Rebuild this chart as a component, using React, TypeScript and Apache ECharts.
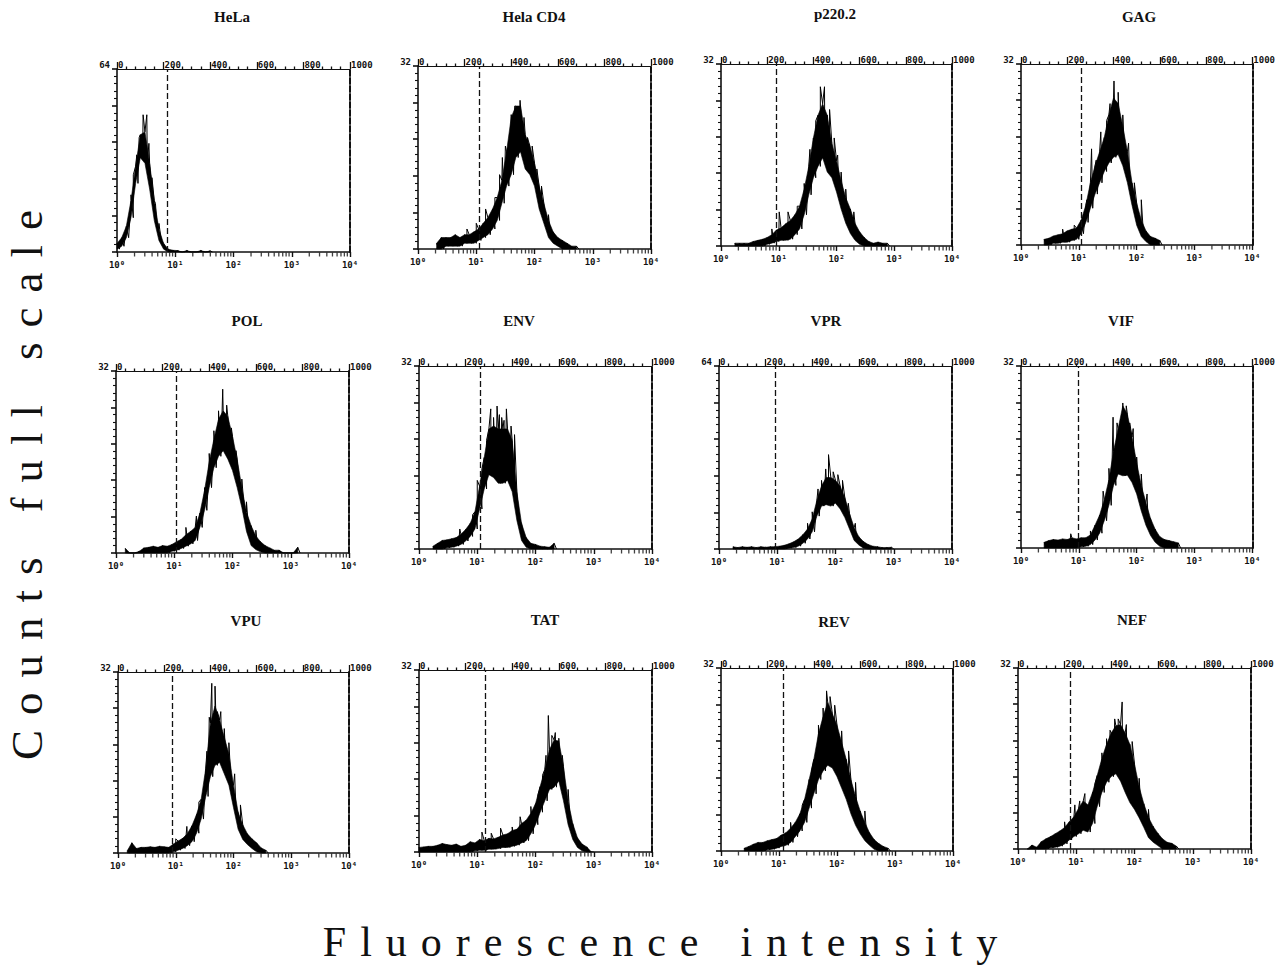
import React, { useEffect, useRef } from "react";
import * as echarts from "echarts";

// ---------- DATA ----------
const panelNames = ["HeLa", "Hela CD4", "p220.2", "GAG", "POL", "ENV", "VPR", "VIF", "VPU", "TAT", "REV", "NEF"];
const fullScale = [64, 32, 32, 32, 32, 32, 64, 32, 32, 32, 32, 32];
const markerChannel = [217, 265, 239, 259, 260, 263, 241, 248, 233, 286, 267, 226];
const startChannel = [0, 80, 60, 100, 40, 60, 60, 100, 40, 0, 100, 40];
const channelStep = 20;

const topTickLabels = ["0", "200", "400", "600", "800", "1000"];
const decadeLabels = ["10\u2070", "10\u00b9", "10\u00b2", "10\u00b3", "10\u2074"];
const logMinorMultipliers = [2, 3, 4, 5, 6, 7, 8, 9];
const decades = [1, 10, 100, 1000];

const xAxisTitle = "Fluorescence intensity";
const yAxisTitle = "Counts full scale";

// upper / lower envelopes of the noisy histogram (counts), every 20 channels
const helaHi = [3, 5, 9, 18, 30, 41, 42, 31, 18, 8, 3, 1, 0.6, 0.5, 0, 0.5, 0, 0, 0.5, 0, 0.4];
const helaLo = [1, 2, 5, 12, 24, 33, 31, 22, 11, 4, 1, 0, 0, 0, 0, 0, 0, 0, 0, 0, 0];
const helaSpikes = [[60, 20], [70, 27], [85, 34], [95, 40], [112, 48], [128, 48], [137, 38], [150, 26], [165, 17], [180, 10]];

const cd4Hi = [1, 2, 2, 2, 2.5, 2, 2.5, 2.5, 3, 3.5, 4.5, 5.5, 7, 9, 12, 17, 23, 25, 25, 20, 18, 15, 11, 8, 5, 3, 2, 1.5, 1, 0.5, 0.5];
const cd4Lo = [0, 0, 0.5, 0.5, 0.5, 0.5, 1, 1, 1, 1.5, 2, 2.5, 3.5, 5, 8, 11, 13, 16, 17, 14, 13, 11, 7, 4.5, 2, 1, 0.5, 0, 0, 0, 0];
const cd4Spikes = [[210, 3.5], [250, 4.5], [290, 7], [330, 9], [350, 13], [362, 16], [375, 18], [400, 23.5], [415, 25], [438, 26], [455, 23], [470, 19.5], [490, 18], [510, 14], [530, 11], [560, 6]];

const p220Hi = [0.5, 0.5, 0.5, 0.5, 0.8, 1, 1.2, 1.5, 2, 2.8, 3.2, 3.9, 4.5, 5.5, 7, 10, 14, 19, 23, 25, 23, 18, 15, 11.5, 8.5, 6.5, 4, 2.5, 1.5, 0.8, 0.5, 0.7, 0.5, 0.5];
const p220Lo = [0, 0, 0, 0, 0, 0, 0, 0.3, 0.5, 0.8, 1, 1, 1.2, 2, 3, 5.5, 9, 12, 14, 15.5, 13, 12, 9.5, 6.5, 4, 2.2, 1, 0.3, 0, 0, 0, 0, 0, 0];
const p220Spikes = [[220, 3], [252, 6], [290, 6], [330, 7], [360, 11], [385, 17], [410, 22], [430, 28], [448, 28], [470, 24], [490, 19], [505, 16], [520, 13], [540, 10], [575, 6]];

const gagHi = [1, 1.2, 1.6, 1.8, 2, 2.5, 2.8, 3, 4.4, 7, 11, 14, 16.5, 19, 23, 26, 25, 21, 16.5, 11, 7.4, 4.4, 2.5, 1.5, 1.2, 0.8];
const gagLo = [0, 0, 0.3, 0.3, 0.5, 0.5, 0.8, 1, 2, 4, 6.5, 9, 11, 13, 14.5, 15.5, 16, 14, 11, 7, 3.5, 1.5, 0.6, 0, 0, 0];
const gagSpikes = [[180, 2.8], [230, 3.5], [285, 8], [305, 17], [325, 15], [345, 20], [370, 22], [385, 25], [402, 29], [420, 27], [440, 23], [465, 18], [490, 11], [520, 8]];

const polHi = [0.8, 0, 0, 0.3, 0.9, 1, 1.2, 1, 1.3, 1.2, 1.5, 2, 2.4, 3.2, 3.8, 4.5, 7, 11, 16, 20, 23.5, 25, 24, 20.5, 16.5, 11.5, 7.2, 4.8, 3, 2, 1.3, 0.9, 0.5, 0.5, 0, 0, 0, 1];
const polLo = [0, 0, 0, 0, 0, 0, 0, 0, 0, 0, 0.3, 0.5, 0.8, 1.2, 1.6, 2.2, 4.5, 7.5, 11.5, 15, 17, 18, 16.5, 14.5, 11.5, 8, 3.8, 1.3, 0.6, 0.2, 0, 0, 0, 0, 0, 0, 0, 0];
const polSpikes = [[300, 4.5], [345, 6.5], [380, 11.5], [400, 17.5], [420, 21.5], [440, 25], [458, 28.8], [475, 26], [495, 22], [515, 18], [540, 13], [560, 9], [600, 4]];

const envHi = [0.5, 1, 1.5, 1.6, 1.8, 2, 2.6, 3.4, 4.5, 6.5, 11, 16, 21, 21.5, 21, 21, 21, 19, 10, 4.5, 2, 1, 0.8, 0.5, 0.4, 0.3, 1];
const envLo = [0, 0, 0, 0.2, 0.3, 0.5, 0.8, 1.4, 2.2, 3.5, 7, 10.5, 13, 12.5, 11.5, 11.5, 12, 10, 5, 1.5, 0.3, 0, 0, 0, 0, 0, 0];
const envSpikes = [[175, 3.5], [230, 6], [250, 12], [270, 14], [290, 19], [308, 24.5], [320, 23], [335, 25], [345, 23.5], [355, 23], [365, 22.5], [375, 24.5], [395, 21.5], [410, 20]];

const vprHi = [0.8, 0.5, 0.8, 0.6, 0.8, 0.5, 0.8, 0.6, 0.8, 0.8, 1, 1.3, 1.8, 2.5, 3.5, 5, 7, 10.5, 17, 22, 25, 25, 24, 22, 18, 12.5, 7.5, 4.3, 2.6, 1.6, 1, 0.8, 0.5, 0.5, 0.6];
const vprLo = [0, 0, 0, 0, 0, 0, 0, 0, 0, 0, 0, 0, 0.3, 0.5, 1, 2, 3.5, 6, 11.5, 15, 15.5, 15, 16, 14, 11, 7, 3, 1.4, 0.3, 0, 0, 0, 0, 0, 0];
const vprSpikes = [[380, 9], [400, 13], [425, 21], [440, 24], [458, 28], [470, 33], [490, 27], [510, 26], [530, 24], [555, 16], [585, 9]];

const vifHi = [1, 1.3, 1.5, 1.4, 1.6, 1.5, 1.8, 1.6, 1.8, 1.8, 2.3, 4, 5.8, 8.5, 12, 17, 21, 25, 23.5, 19.5, 15, 11, 8, 5.2, 3.3, 2, 1.5, 1.3, 1.1, 0.9];
const vifLo = [0, 0, 0, 0, 0, 0, 0, 0, 0.2, 0.3, 0.6, 1.4, 2.6, 4.8, 7.5, 11, 13, 12.7, 12.8, 11.5, 9.5, 6.5, 4, 2.2, 1, 0.3, 0, 0, 0, 0];
const vifSpikes = [[215, 2.5], [300, 3], [355, 10], [380, 14], [398, 23], [415, 22], [440, 25.5], [455, 25], [470, 22], [485, 21], [500, 16], [520, 13], [545, 9.5]];

const vpuHi = [0.4, 1.8, 0.8, 1, 1, 1.1, 1, 1.2, 1.1, 1, 1.6, 2.1, 2.6, 3.4, 4.8, 6.8, 9.5, 15, 23, 26, 23.5, 20.5, 17.5, 12, 7.2, 5, 3.4, 2.5, 1.8, 0.9, 0.5];
const vpuLo = [0, 0, 0, 0, 0, 0, 0, 0, 0, 0, 0.2, 0.5, 0.8, 1.3, 2, 3.5, 6, 10, 13.5, 15.5, 16, 14, 12, 8, 4.2, 2.4, 1.5, 0.8, 0.2, 0, 0];
const vpuSpikes = [[250, 2.5], [298, 4.7], [350, 9], [385, 18], [395, 24], [406, 30], [420, 29.5], [430, 25], [445, 25], [460, 22], [480, 19.5], [505, 14], [530, 8.5]];

const tatHi = [0.8, 0.9, 1, 1, 1.2, 1.5, 1.3, 1.2, 1.4, 1, 1.2, 1.8, 1.6, 2.2, 2, 2.4, 2.3, 2.6, 3, 3.2, 3.8, 4, 5, 5.6, 6.8, 8.5, 11.5, 14.5, 18, 19.7, 19.5, 15, 9, 5, 2.5, 1.4, 0.9, 0];
const tatLo = [0, 0, 0, 0, 0, 0, 0, 0, 0, 0, 0, 0, 0.2, 0.3, 0.3, 0.5, 0.5, 0.6, 0.8, 0.8, 1, 1.2, 1.6, 2, 3.2, 4.8, 7, 9, 11, 11.4, 12.5, 9, 4.8, 2.2, 0.8, 0.2, 0, 0];
const tatSpikes = [[270, 3.5], [310, 3.3], [350, 4.2], [400, 4.4], [434, 6.2], [480, 8], [510, 10], [530, 13.5], [545, 17], [555, 24], [570, 20.5], [585, 21], [600, 20], [615, 17], [640, 11]];

const revHi = [0.5, 0.8, 1.2, 1.5, 1.5, 1.8, 2, 2.2, 2.8, 3.2, 4, 5, 6.5, 9, 12.5, 16, 20.5, 23.5, 26, 24, 22, 19, 16, 12.5, 9.5, 7, 5, 3.2, 2, 1.3, 0.8, 0.5];
const revLo = [0, 0, 0, 0, 0, 0.2, 0.3, 0.5, 0.8, 1, 1.5, 2.5, 3.5, 5, 7.5, 10, 12.5, 14, 15, 14.5, 13, 11, 9, 6.5, 4.5, 3, 1.8, 1, 0.3, 0, 0, 0];
const revSpikes = [[300, 5], [350, 8], [390, 14], [420, 22], [440, 25], [455, 28], [470, 27], [490, 25.5], [520, 21], [550, 17.5], [580, 12], [620, 7]];

const nefHi = [0, 0.7, 0.3, 1.3, 1.8, 2.2, 2.7, 3.2, 3.8, 4.8, 5.7, 7.2, 8.5, 7.8, 10, 13, 16, 18.5, 20.5, 21.8, 22, 20.5, 18.5, 15, 11, 8, 5.6, 4, 2.8, 1.8, 1.2, 1, 0.5];
const nefLo = [0, 0, 0, 0, 0, 0.2, 0.3, 0.5, 0.9, 1.6, 2.2, 2.7, 3.3, 3, 4.5, 7.5, 10, 11.8, 12.8, 13.3, 12, 10, 8.2, 7, 5.5, 3.8, 2, 1.2, 0.6, 0, 0, 0, 0];
const nefSpikes = [[200, 4.8], [244, 7.8], [265, 8.5], [287, 9.8], [330, 11.5], [360, 17], [380, 19.5], [395, 21], [415, 23], [430, 23], [447, 26], [465, 22], [490, 19], [520, 12.5], [560, 7]];

const hiSeries = [helaHi, cd4Hi, p220Hi, gagHi, polHi, envHi, vprHi, vifHi, vpuHi, tatHi, revHi, nefHi];
const loSeries = [helaLo, cd4Lo, p220Lo, gagLo, polLo, envLo, vprLo, vifLo, vpuLo, tatLo, revLo, nefLo];
const spikeSeries = [helaSpikes, cd4Spikes, p220Spikes, gagSpikes, polSpikes, envSpikes, vprSpikes, vifSpikes, vpuSpikes, tatSpikes, revSpikes, nefSpikes];

// ---------- LAYOUT (pixels) ----------
const gridLayout = [
  [117, 69, 233, 183], [418, 66, 233, 183], [721, 64, 231, 182], [1021, 64, 232, 181],
  [116, 371, 233, 182], [419, 366, 233, 183], [719, 366, 233, 183], [1021, 366, 232, 182],
  [118, 672, 231, 181], [419, 670, 233, 182], [721, 668, 232, 183], [1018, 668, 233, 181],
];
const titlePos = [
  [232, 17], [534, 17], [835, 14], [1139, 17],
  [247, 321], [519, 321], [826, 321], [1121, 321],
  [246, 621], [545, 620], [834, 622], [1132, 620],
];

const INK = "#111";
const tickFont = "DejaVu Sans Mono";

function spaced(s: string) {
  return s
    .split(" ")
    .map((w) => w.split("").join("\u2004"))
    .join("\u2004\u2004\u2004");
}

function buildOption() {
  const grid: any[] = [];
  const xAxis: any[] = [];
  const yAxis: any[] = [];
  const series: any[] = [];
  const graphic: any[] = [];

  panelNames.forEach((name, i) => {
    const [l, t, w, h] = gridLayout[i];
    const full = fullScale[i];
    grid.push({ left: l, top: t, width: w, height: h, containLabel: false });

    xAxis.push({
      type: "value",
      gridIndex: i,
      position: "top",
      min: 0,
      max: 1000,
      interval: 200,
      axisLine: { show: true, onZero: false, lineStyle: { color: INK, width: 1.2 } },
      axisTick: { show: true, length: 7, lineStyle: { color: INK, width: 1.3 } },
      minorTick: { show: true, splitNumber: 5, length: 2.5, lineStyle: { color: INK, width: 1.3 } },
      axisLabel: {
        show: true,
        align: "left",
        margin: 0,
        padding: [0, 0, 0, 1],
        fontSize: 9,
        fontWeight: "bold",
        fontFamily: tickFont,
        color: INK,
        showMinLabel: true,
        showMaxLabel: true,
        formatter: (v: number) => topTickLabels[Math.round(v / 200)] ?? "",
      },
      splitLine: { show: false },
    });
    xAxis.push({
      type: "log",
      logBase: 10,
      gridIndex: i,
      position: "bottom",
      min: 1,
      max: 10000,
      splitNumber: 4,
      axisLine: { show: true, onZero: false, lineStyle: { color: INK, width: 1.5 } },
      axisTick: { show: true, length: 5, lineStyle: { color: INK, width: 1.4 } },
      minorTick: { show: false },
      axisLabel: {
        margin: 8,
        fontSize: 9,
        fontWeight: "bold",
        fontFamily: tickFont,
        color: INK,
        showMinLabel: true,
        showMaxLabel: true,
        formatter: (v: number) => decadeLabels[Math.round(Math.log10(v))] ?? "",
      },
      splitLine: { show: false },
    });

    yAxis.push({
      type: "value",
      gridIndex: i,
      position: "left",
      min: 0,
      max: full,
      interval: full / 5,
      axisLine: { show: true, onZero: false, lineStyle: { color: INK, width: 1.6 } },
      axisTick: { show: true, length: 5, lineStyle: { color: INK, width: 1.6 } },
      minorTick: { show: true, splitNumber: 5, length: 3, lineStyle: { color: INK, width: 1.1 } },
      axisLabel: {
        show: true,
        margin: 7,
        fontSize: 9,
        fontWeight: "bold",
        fontFamily: tickFont,
        color: INK,
        verticalAlign: "bottom",
        showMaxLabel: true,
        formatter: (v: number) => (Math.abs(v - full) < 0.01 ? String(full) : ""),
      },
      splitLine: { show: false },
    });
    yAxis.push({
      type: "value",
      gridIndex: i,
      position: "right",
      min: 0,
      max: full,
      axisLine: { show: true, onZero: false, lineStyle: { color: INK, width: 2, type: [6, 2] } },
      axisTick: { show: false },
      axisLabel: { show: false },
      splitLine: { show: false },
    });

    const hi = hiSeries[i];
    const lo = loSeries[i];
    const xs = hi.map((_, k) => startChannel[i] + k * channelStep);

    // filled band between lower and upper envelope (polygon through the axes' scales)
    series.push({
      type: "custom",
      xAxisIndex: 2 * i,
      yAxisIndex: 2 * i,
      silent: true,
      data: [[xs[0], 0]],
      renderItem: (params: any, api: any) => {
        const pts: number[][] = [];
        for (let k = 0; k < xs.length; k++) pts.push(api.coord([xs[k], hi[k]]));
        for (let k = xs.length - 1; k >= 0; k--) pts.push(api.coord([xs[k], lo[k]]));
        return {
          type: "polygon",
          shape: { points: pts },
          style: { fill: "#000", stroke: "#000", lineWidth: 0.6 },
        };
      },
      z: 2,
    });

    // noisy trace: alternating upper / lower values plus spikes
    const zig: number[][] = [];
    xs.forEach((x, k) => {
      zig.push([x, hi[k]]);
      zig.push([x + channelStep / 2, lo[k]]);
    });
    spikeSeries[i].forEach((s) => zig.push([s[0], s[1]]));
    zig.sort((a, b) => a[0] - b[0]);
    series.push({
      type: "line",
      xAxisIndex: 2 * i,
      yAxisIndex: 2 * i,
      data: zig,
      symbol: "none",
      silent: true,
      z: 3,
      lineStyle: { width: 1, color: "#000" },
      markLine: {
        silent: true,
        symbol: "none",
        label: { show: false },
        lineStyle: { color: INK, type: [6, 3], width: 1.3 },
        data: [{ xAxis: markerChannel[i] }],
      },
    });

    // log minor ticks on the bottom axis
    const minor: number[][] = [];
    decades.forEach((d) => logMinorMultipliers.forEach((m) => minor.push([m * d, 0])));
    series.push({
      type: "scatter",
      xAxisIndex: 2 * i + 1,
      yAxisIndex: 2 * i,
      data: minor,
      symbol: "rect",
      symbolSize: [1.3, 4],
      symbolOffset: [0, 2.5],
      itemStyle: { color: INK },
      silent: true,
      clip: false,
      z: 5,
    });

    const [tx, ty] = titlePos[i];
    graphic.push({
      type: "text",
      x: tx,
      y: ty,
      style: {
        text: name,
        fill: INK,
        font: 'bold 15px "Liberation Serif"',
        align: "center",
        verticalAlign: "middle",
      },
    });
  });

  graphic.push({
    type: "text",
    x: 660,
    y: 942,
    style: {
      text: spaced(xAxisTitle),
      fill: INK,
      font: '42px "Liberation Serif"',
      align: "center",
      verticalAlign: "middle",
    },
  });
  graphic.push({
    type: "text",
    x: 27,
    y: 485,
    rotation: Math.PI / 2,
    style: {
      text: spaced(yAxisTitle),
      fill: INK,
      font: '45px "Liberation Serif"',
      align: "center",
      verticalAlign: "middle",
    },
  });

  return {
    animation: false,
    backgroundColor: "#fff",
    grid,
    xAxis,
    yAxis,
    series,
    graphic,
  };
}

export default function App() {
  const ref = useRef<HTMLDivElement>(null);
  useEffect(() => {
    if (!ref.current) return;
    const chart = echarts.init(ref.current, undefined, { renderer: "svg" });
    chart.setOption(buildOption() as any);
    return () => chart.dispose();
  }, []);
  return (
    <div
      ref={ref}
      style={{ position: "absolute", left: 0, top: 0, width: 1278, height: 966, background: "#fff" }}
    />
  );
}
